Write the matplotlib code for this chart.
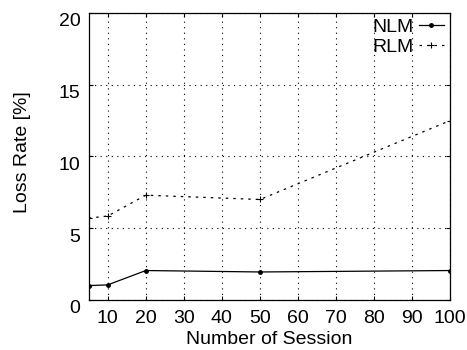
import matplotlib
matplotlib.use("Agg")
import matplotlib.pyplot as plt
import matplotlib.transforms as mtransforms

# data
sessions = [5, 10, 20, 50, 100]
nlm = [1.0, 1.05, 2.05, 1.95, 2.05]
rlm = [5.7, 5.85, 7.3, 7.0, 12.5]
xticks = [10, 20, 30, 40, 50, 60, 70, 80, 90, 100]
yticks = [0, 5, 10, 15, 20]

plt.rcParams['font.family'] = ['Liberation Sans', 'DejaVu Sans']
plt.rcParams['font.size'] = 14

fig = plt.figure(figsize=(4.67, 3.5), dpi=100)
ax = fig.add_axes([0.19, 0.143, 0.774, 0.82])

ax.plot(sessions, nlm, 'k-', marker='o', markersize=2.5, linewidth=0.9, label='NLM')
ax.plot(sessions, rlm, 'k', linestyle=(0, (2, 4)), marker='+', markersize=4,
        markeredgewidth=0.8, linewidth=0.9, label='RLM')

ax.set_xlim(5, 100)
ax.set_ylim(0, 20)
ax.set_xticks(xticks)
ax.set_yticks(yticks)
ax.grid(True, color='k', linestyle=(0, (1, 4)), linewidth=0.8)
ax.tick_params(direction='in', top=True, right=True, length=3)
ax.tick_params(axis='x', pad=7)
ax.tick_params(axis='y', pad=6)
for s in ax.spines.values():
    s.set_linewidth(0.9)

# y tick labels sit a bit low in the original
shift = mtransforms.ScaledTranslation(0, -7 / 100, fig.dpi_scale_trans)
for lab in ax.get_yticklabels():
    lab.set_transform(lab.get_transform() + shift)

ax.set_xlabel('Number of Session')
ax.set_ylabel('Loss Rate [%]')
ax.xaxis.set_label_coords(0.5, -0.107)
ax.yaxis.set_label_coords(-0.16, 0.515)

ax.legend(loc='upper right', frameon=False, markerfirst=False, handlelength=1.3,
          handletextpad=0.25, labelspacing=0.1, borderaxespad=0.1,
          bbox_to_anchor=(1.01, 1.015), fontsize=14)

fig.savefig('out.png', dpi=100)
